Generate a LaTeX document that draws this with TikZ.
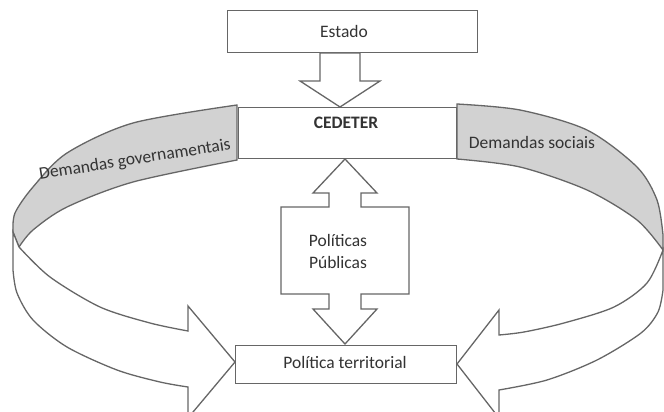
\documentclass[tikz,border=0pt]{standalone}
\usepackage{fontspec}
\setmainfont{Carlito}
\begin{document}
\begin{tikzpicture}[x=1pt,y=-1pt,
  ln/.style={draw=black!60, line width=1.3pt, line join=miter},
  box/.style={ln, fill=white},
  band/.style={ln, fill=gray!35},
  txt/.style={font=\fontsize{17.5}{22}\selectfont, text=black!80, inner sep=0pt}]
\useasboundingbox (0,0) rectangle (664,412);
\clip (0,0) rectangle (664,412);
% left ribbon (gray back)
\path[band] plot[smooth] coordinates {(237,105) (133,123) (67,153) (33,187) (15,213) (13,232)}
  -- (19,247) -- plot[smooth] coordinates {(19,247) (33,230) (67,207) (133,182) (237,160)} -- cycle;
% left ribbon (white front with arrow head)
\path[box] (13,232) -- plot[smooth] coordinates {(19,247) (50,277) (100,307) (150,323) (188,331)}
  -- (188,306) -- (235,362) -- (188,418)
  -- plot[smooth] coordinates {(188,387) (160,382) (117,370) (67,347) (33,320) (17,293) (13,270)} -- cycle;
% right ribbon (gray back)
\path[band] plot[smooth] coordinates {(457,104) (520,110) (587,130) (637,167) (657,200) (663,235)}
  -- (663,250) -- plot[smooth] coordinates {(663,250) (637,220) (587,190) (520,167) (457,159)} -- cycle;
% right ribbon (white front with arrow head)
\path[box] plot[smooth] coordinates {(663,250) (647,283) (614,307) (564,323) (524,332) (499,335)}
  -- (499,310) -- (457,364) -- (499,418)
  -- plot[smooth] coordinates {(499,390) (547,380) (597,360) (641,333) (658,312) (663,290)} -- cycle;
% boxes
\node[box, anchor=north west, minimum width=250pt, minimum height=42pt, inner sep=0pt] (estado) at (227,10) {};
\node[box, anchor=north west, minimum width=218pt, minimum height=51pt, inner sep=0pt] (cedeter) at (238,107) {};
\node[box, anchor=north west, minimum width=221pt, minimum height=38pt, inner sep=0pt] (politica) at (235,345) {};
\node[txt] (estadotxt) at (344,31) {Estado};
\node[txt, font=\fontsize{17.5}{22}\selectfont\bfseries] (cedetertxt) at (346,123) {CEDETER};
\node[txt] (politicatxt) at (345,362) {Política territorial};
% arrow Estado -> CEDETER
\path[box] (320,53) -- (360,53) -- (360,81) -- (380,81) -- (340,107) -- (300,81) -- (320,81) -- cycle;
% double arrow
\path[box] (345,159) -- (377,193) -- (361,193) -- (361,207) -- (409,207) -- (409,294) -- (361,294)
  -- (361,309) -- (377,309) -- (345,344) -- (313,309) -- (329,309) -- (329,294) -- (281,294)
  -- (281,207) -- (329,207) -- (329,193) -- (313,193) -- cycle;
\node[txt, align=center] (pp) at (338,251) {Políticas\\Públicas};
% band labels
\node[txt, rotate=9] (dg) at (135,160) {Demandas governamentais};
\node[txt] (ds) at (532,142) {Demandas sociais};
\end{tikzpicture}
\end{document}
